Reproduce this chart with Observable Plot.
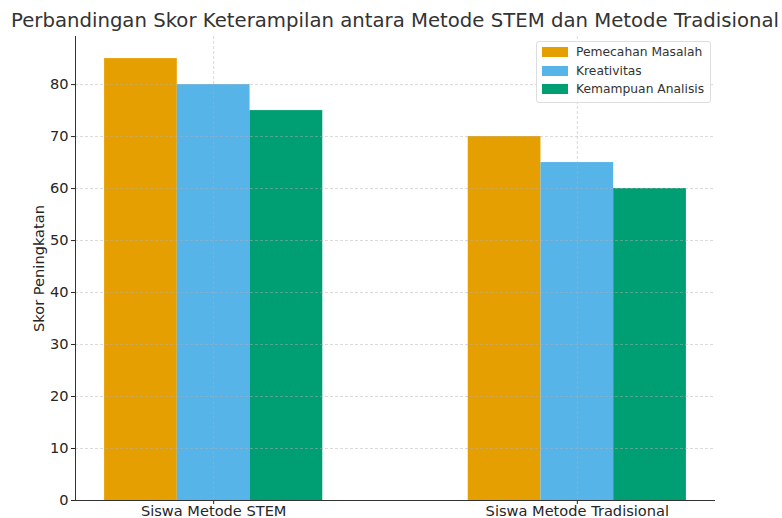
<!DOCTYPE html>
<html>
<head>
<meta charset="utf-8">
<script src="https://cdn.jsdelivr.net/npm/d3@7"></script>
<script src="https://cdn.jsdelivr.net/npm/@observablehq/plot@0.6"></script>
<style>
  html, body { margin: 0; padding: 0; background: #fff; overflow: hidden; }
  #wrap { position: relative; width: 782px; height: 518px; overflow: hidden; font-family: "DejaVu Sans", sans-serif; }
  #title { position: absolute; left: 0; top: 9px; width: 790px; text-align: center; font-size: 19.7px; color: #333; white-space: nowrap; }
  #chart { position: absolute; left: 0; top: 0; }
  #legend { position: absolute; left: 536px; top: 41px; width: 173px; border: 1px solid #ddd; border-radius: 3px; background: rgba(255,255,255,0.85); padding: 1px 0 3px 0; font-size: 12.3px; color: #333; white-space: nowrap; }
  .item { display: flex; align-items: center; height: 18.5px; }
  .sw { width: 26px; height: 10px; margin-left: 5px; margin-right: 8px; flex: none; }
</style>
</head>
<body>
<div id="wrap">
  <div id="chart"></div>
  <div id="title"></div>
  <div id="legend"></div>
</div>
<script>
const titleText = "Perbandingan Skor Keterampilan antara Metode STEM dan Metode Tradisional";
const yLabel = "Skor Peningkatan";
const groups = ["Siswa Metode STEM", "Siswa Metode Tradisional"];
const series = ["Pemecahan Masalah", "Kreativitas", "Kemampuan Analisis"];
const colors = ["#E69F00", "#56B4E9", "#009E73"];
const pemecahanMasalah = [85, 70];
const kreativitas = [80, 65];
const kemampuanAnalisis = [75, 60];
const yTicks = [0, 10, 20, 30, 40, 50, 60, 70, 80];

const values = [pemecahanMasalah, kreativitas, kemampuanAnalisis];
const barWidth = 0.2;
const data = [];
series.forEach((s, si) => {
  groups.forEach((g, gi) => {
    const center = gi + (si - 1) * barWidth;
    data.push({series: s, group: g, x1: center - barWidth / 2, x2: center + barWidth / 2, value: values[si][gi]});
  });
});

document.getElementById("title").textContent = titleText;

const chart = Plot.plot({
  width: 782,
  height: 524,
  marginLeft: 75,
  marginRight: 67,
  marginTop: 36,
  marginBottom: 24,
  style: {fontFamily: "DejaVu Sans, sans-serif", fontSize: "14.6px", color: "#262626", background: "transparent"},
  x: {domain: [-0.38, 1.38], label: null},
  y: {domain: [0, 89.25], label: null},
  color: {domain: series, range: colors},
  marks: [
    Plot.rectY(data, {x1: "x1", x2: "x2", y: "value", fill: "series"}),
    Plot.gridY(yTicks, {stroke: "#b0b0b0", strokeOpacity: 0.6, strokeDasharray: "3,2", strokeWidth: 0.8}),
    Plot.gridX([0, 1], {stroke: "#b0b0b0", strokeOpacity: 0.6, strokeDasharray: "3,2", strokeWidth: 0.8}),
    Plot.axisY(yTicks, {tickSize: 4, tickPadding: 3, label: yLabel, labelAnchor: "center", labelArrow: "none", labelOffset: 42, fontSize: 14.6}),
    Plot.axisX([0, 1], {tickFormat: i => groups[i], tickSize: 4, tickPadding: 1, label: null, fontSize: 14.6}),
    Plot.ruleX([-0.38], {stroke: "#333", strokeWidth: 1}),
    Plot.ruleY([0], {stroke: "#333", strokeWidth: 1})
  ]
});
document.getElementById("chart").appendChild(chart);

const legend = document.getElementById("legend");
series.forEach((s, i) => {
  const item = document.createElement("div");
  item.className = "item";
  const sw = document.createElement("span");
  sw.className = "sw";
  sw.style.background = colors[i];
  const t = document.createElement("span");
  t.textContent = s;
  item.appendChild(sw);
  item.appendChild(t);
  legend.appendChild(item);
});
</script>
</body>
</html>
